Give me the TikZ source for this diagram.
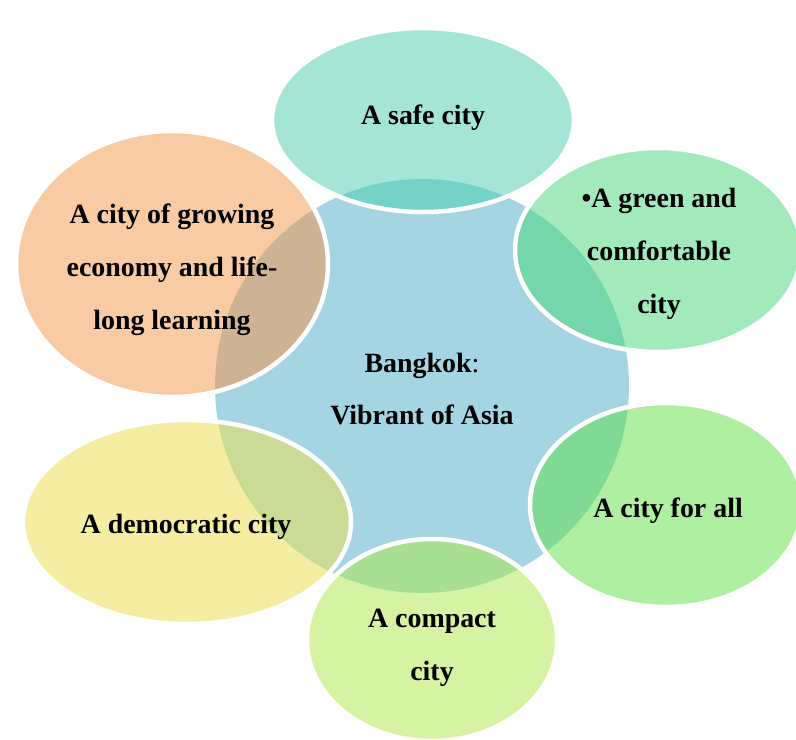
\documentclass[tikz,border=0pt]{standalone}
\usepackage{fontspec}
\setmainfont{Liberation Serif}
\definecolor{cblue}{HTML}{A5D5E2}
\definecolor{tealL}{HTML}{A5E5D6}
\definecolor{tealO}{HTML}{74D2C7}
\definecolor{orgL}{HTML}{F8CBA5}
\definecolor{orgO}{HTML}{CDB394}
\definecolor{grnL}{HTML}{A2EABB}
\definecolor{grnO}{HTML}{74D6AA}
\definecolor{limL}{HTML}{AEEFA2}
\definecolor{limO}{HTML}{80DA94}
\definecolor{ylgL}{HTML}{D6F2A3}
\definecolor{ylgO}{HTML}{A8DF93}
\definecolor{yelL}{HTML}{F5EDA2}
\definecolor{yelO}{HTML}{CADB95}
\newcommand\bkpetal[6]{%
  \fill[#5] (#1,#2) ellipse[x radius=#3bp, y radius=#4bp];
  \begin{scope}
    \clip (422,386) circle[radius=207bp];
    \fill[#6] (#1,#2) ellipse[x radius=#3bp, y radius=#4bp];
  \end{scope}
  \draw[petalrim] (#1,#2) ellipse[x radius=#3bp, y radius=#4bp];}
\begin{document}
\begin{tikzpicture}[x=1bp,y=-1bp,
  lbl/.style={font=\fontsize{28}{53}\selectfont\bfseries, align=center, inner sep=0pt, text=black},
  petalrim/.style={white, line width=4.5bp}]
\useasboundingbox (0,0) rectangle (796,740);
\clip (0,0) rectangle (796,740);
\fill[cblue] (422,386) circle[radius=207bp];
\bkpetal{423}{120}{151}{92}{tealL}{tealO}
\bkpetal{172}{264}{156}{133}{orgL}{orgO}
\bkpetal{658}{250}{143}{102}{grnL}{grnO}
\bkpetal{666}{505}{136}{102}{limL}{limO}
\bkpetal{432}{640}{125}{101}{ylgL}{ylgO}
\bkpetal{187}{522}{164}{102}{yelL}{yelO}
\node[lbl] (center) at (422,389) {Bangkok{\mdseries:}\\Vibrant of Asia};
\node[lbl] (safe) at (423,118) {A safe city};
\node[lbl] (growing) at (172,270) {A city of growing\\economy and life-\\long learning};
\node[lbl] (green) at (659,254) {•A green and\\comfortable\\city};
\node[lbl] (forall) at (668,511) {A city for all};
\node[lbl] (compact) at (432,648) {A compact\\city};
\node[lbl] (democratic) at (186,527) {A democratic city};
\end{tikzpicture}
\end{document}
